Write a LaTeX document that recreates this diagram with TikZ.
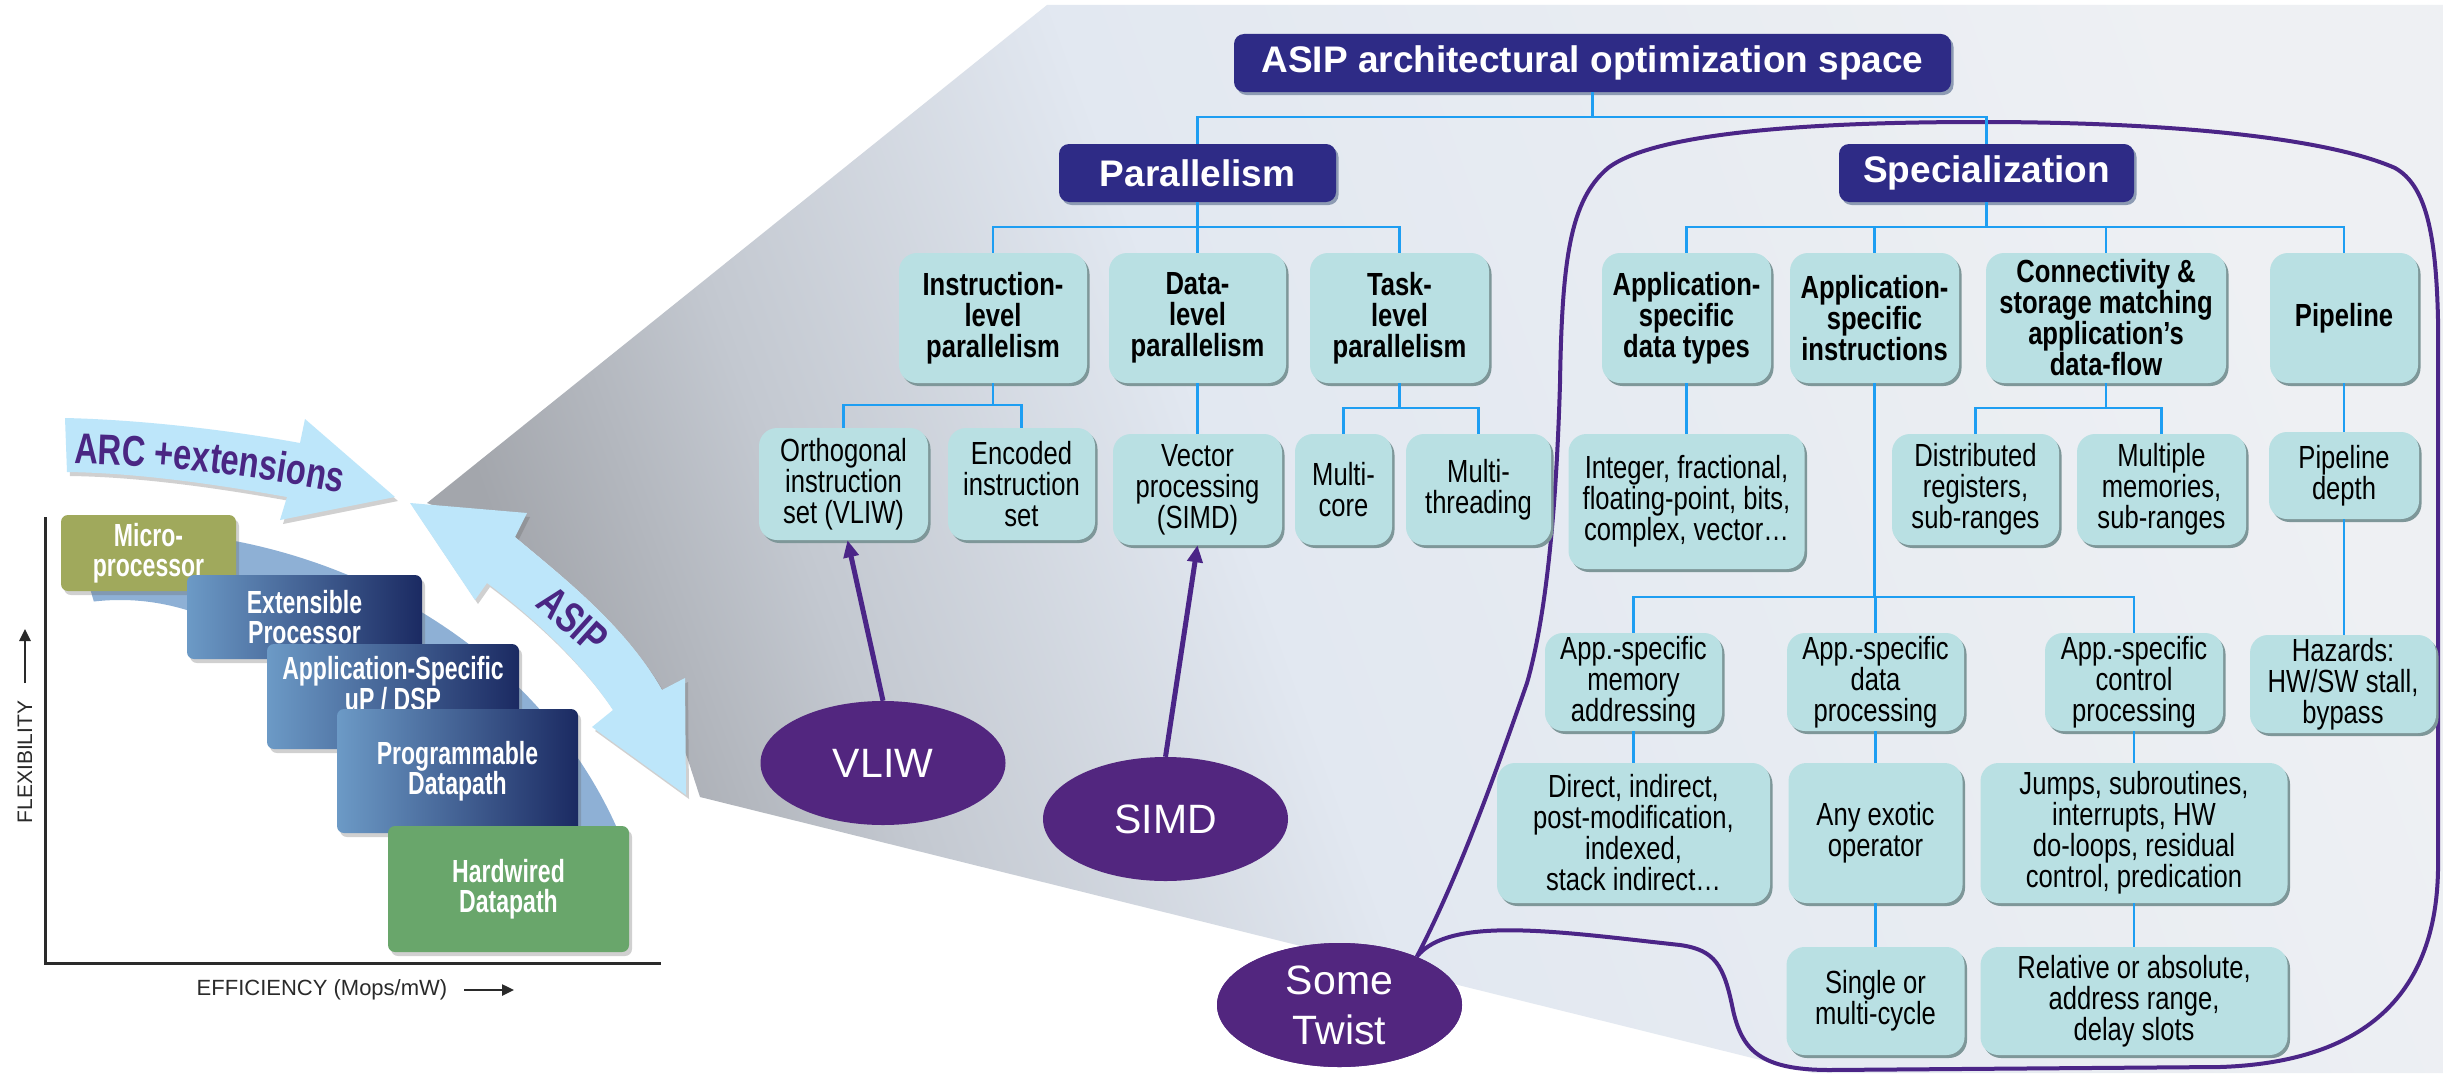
\documentclass[tikz,border=0pt]{standalone}
\usepackage{fontspec}
\setmainfont{Liberation Sans}
\newfontfamily\treefont{Liberation Sans}[FakeStretch=0.8]
\newfontfamily\chartfont{Liberation Sans}[FakeStretch=0.72]
\newfontfamily\arcfamily{Liberation Sans}[FakeStretch=0.76]
\newcommand\arcfont{\arcfamily\bfseries\fontsize{43}{43}\selectfont}
\usetikzlibrary{arrows.meta,shapes.geometric,shadows,calc,decorations.text}

\definecolor{navyfill}{HTML}{2E2B86}
\definecolor{tealbox}{HTML}{B9E0E3}
\definecolor{tshadow}{HTML}{7E9799}
\definecolor{nshadow}{HTML}{8D9BB3}
\definecolor{linkblue}{HTML}{1E9EF2}
\definecolor{twistfill}{HTML}{52267F}
\definecolor{loopline}{HTML}{4B2587}
\definecolor{arrowsky}{HTML}{BDE6FA}
\definecolor{labelpurple}{HTML}{4A2683}
\definecolor{bandblue}{HTML}{8EB0D5}
\definecolor{microolive}{HTML}{A0A95C}
\definecolor{hwgreen}{HTML}{69A66B}
\definecolor{steel}{HTML}{6C9AC6}
\definecolor{deepnavy}{HTML}{1B2A62}
\definecolor{pdark}{HTML}{A3A6AC}
\definecolor{pmid}{HTML}{C3C8D0}
\definecolor{plight}{HTML}{E2E8F1}
\definecolor{pwhite}{HTML}{EEF0F3}
\definecolor{axisgray}{HTML}{2A2A2A}

\pgfdeclarehorizontalshading{panelshade}{100bp}{color(0bp)=(pdark); color(25bp)=(pdark); color(33bp)=(pmid); color(45bp)=(plight); color(75bp)=(pwhite); color(100bp)=(pwhite)}

\begin{document}
\begin{tikzpicture}[x=1pt,y=-1pt,
  tbox/.style={rounded corners=18pt, fill=tealbox, inner sep=0pt, align=center,
    font=\treefont\fontsize{32}{31}\selectfont,
    drop shadow={shadow xshift=2.5pt, shadow yshift=-3pt, opacity=1, fill=tshadow}},
  tboxb/.style={tbox, font=\treefont\bfseries\fontsize{32}{31}\selectfont},
  navybox/.style={rounded corners=10pt, fill=navyfill, text=white, inner sep=0pt,
    font=\bfseries\fontsize{37}{37}\selectfont,
    drop shadow={shadow xshift=2.5pt, shadow yshift=-3pt, opacity=1, fill=nshadow}},
  link/.style={draw=linkblue, line width=2.5pt},
  twistnode/.style={ellipse, fill=twistfill, text=white, inner sep=0pt,
    minimum width=245pt, minimum height=124pt, align=center,
    font=\fontsize{41}{50}\selectfont},
  pointer/.style={draw=loopline, line width=5pt, -{Triangle[length=17pt,width=15pt]}},
  twistloop/.style={draw=loopline, line width=4pt},
  chartbox/.style={rounded corners=7pt, inner sep=0pt, align=center, text=white,
    font=\chartfont\bfseries\fontsize{32}{30}\selectfont,
    drop shadow={shadow xshift=3pt, shadow yshift=-4pt, opacity=.3, fill=black!60}},
  charttext/.style={inner sep=0pt, align=center, text=white,
    font=\chartfont\bfseries\fontsize{32}{29}\selectfont},
  bigarrow/.style={fill=arrowsky, drop shadow={shadow xshift=3pt, shadow yshift=-4pt, opacity=.3, fill=black!60}},
  axisline/.style={draw=axisgray, line width=3pt},
  axarrow/.style={draw=axisgray, line width=2.5pt, -{Triangle[length=12pt,width=11pt]}},
  axislabel/.style={inner sep=0pt, text=axisgray, font=\fontsize{22}{22}\selectfont}
]
\useasboundingbox (0,0) rectangle (2443,1073);
\fill[white] (0,0) rectangle (2443,1073);

% perspective panel behind the tree
\shade[shading=panelshade, shading angle=20]
  (427,503) -- (515,537) .. controls (560,575) and (625,625) .. (662,690)
  -- (688,760) -- (700,797) -- (1813,1073) -- (2443,1073) -- (2443,5) -- (1047,5) -- cycle;

% ---------------- flexibility / efficiency chart ----------------
\fill[bandblue] (120,1000) ++(-95:534 and 470)
  arc[start angle=-95, end angle=-20, x radius=534, y radius=470]
  -- ($(120,1000)+(-20:300 and 400)$)
  arc[start angle=-20, end angle=-95, x radius=300, y radius=400] -- cycle;

\coordinate (yaxtop) at (45,517);
\coordinate (orig) at (45,963);
\coordinate (xaxend) at (661,963);
\draw[axisline] (yaxtop) -- (orig) -- (xaxend);

\node[axislabel, rotate=90, font=\fontsize{21}{21}\selectfont] (flexlabel) at (25,762) {FLEXIBILITY};
\coordinate (fa0) at (25,683);
\coordinate (fa1) at (25,629);
\draw[axarrow] (fa0) -- (fa1);
\node[axislabel] (efflabel) at (322,990) {EFFICIENCY (Mops/mW)};
\coordinate (ea0) at (464,990);
\coordinate (ea1) at (514,990);
\draw[axarrow] (ea0) -- (ea1);

\node[chartbox, fill=microolive, minimum width=175pt, minimum height=76pt] (micro) at (148.5,553) {Micro-\\processor};
\node[chartbox, left color=steel, right color=deepnavy, minimum width=235pt, minimum height=84pt] (ext) at (304.5,617) {Extensible\\Processor};
\node[chartbox, left color=steel, right color=deepnavy, minimum width=252pt, minimum height=105pt] (asp) at (393,696.5) {};
\node[charttext] (asptext) at (393,684) {Application-Specific\\uP / DSP};
\node[chartbox, left color=steel, right color=deepnavy, minimum width=241pt, minimum height=124pt] (prog) at (457.5,771) {Programmable\\Datapath};
\node[chartbox, fill=hwgreen, minimum width=241pt, minimum height=126pt] (hard) at (508.5,889) {Hardwired\\Datapath};

% ARC +extensions arrow
\fill[bigarrow] (65,418) .. controls (150,420) and (240,432) .. (300,443) -- (305,419) -- (395,497)
  -- (280,520) -- (287,497) .. controls (220,485) and (140,473) .. (67,472) -- cycle;
\path[decorate, decoration={text along path, text align=center, text color=labelpurple,
  text={|\arcfont|ARC +extensions}}]
  (40,464) .. controls (150,462) and (260,475) .. (375,500);

% ASIP double arrow
\fill[bigarrow] (410,503) -- (527,513) -- (515,537) .. controls (560,575) and (625,625) .. (662,690)
  -- (685,678) -- (686,795) -- (592,727) -- (613,710) .. controls (580,660) and (530,615) .. (487,583)
  -- (475,600) -- cycle;
\node[inner sep=0pt, rotate=-42, text=labelpurple, font=\arcfont] (asiplabel) at (573,620) {ASIP};

% ---------------- outline of the specialization region ----------------
\node[twistnode] (twist) at (1339.5,1005) {Some\\Twist};
\draw[twistloop] (twist.32) .. controls (1462,870) and (1500,760) .. (1527,683)
  .. controls (1545,620) and (1556,520) .. (1560,383)
  .. controls (1562,260) and (1570,200) .. (1608,168)
  .. controls (1660,128) and (1850,122) .. (1981,122)
  .. controls (2150,122) and (2320,135) .. (2395,168)
  .. controls (2425,185) and (2436,230) .. (2438,320)
  -- (2438,870)
  .. controls (2436,990) and (2370,1062) .. (2220,1067)
  -- (1830,1070)
  .. controls (1760,1070) and (1742,1050) .. (1733,1010)
  .. controls (1724,965) and (1715,950) .. (1680,945)
  .. controls (1560,932) and (1450,915) .. (twist.32);
\node[twistnode] at (twist) {Some\\Twist};

% ---------------- tree ----------------
\node[navybox, minimum width=717pt, minimum height=58pt] (title) at (1592.5,63) {ASIP architectural optimization space};
\node[navybox, minimum width=277pt, minimum height=58pt] (par) at (1197.5,173) {Parallelism};
\node[navybox, minimum width=295pt, minimum height=58pt] (spec) at (1986.5,173) {Specialization};

\node[tboxb, minimum width=188pt, minimum height=130pt] (ilp) at (993,318) {Instruction-\\level\\parallelism};
\node[tboxb, minimum width=177pt, minimum height=130pt] (dlp) at (1197.5,318) {Data-\\level\\parallelism};
\node[tboxb, minimum width=179pt, minimum height=130pt] (tlp) at (1399.5,318) {Task-\\level\\parallelism};
\node[tboxb, minimum width=169pt, minimum height=130pt] (asdt) at (1686.5,318) {Application-\\specific\\data types};
\node[tboxb, minimum width=169pt, minimum height=130pt] (asi) at (1874.5,318) {Application-\\specific\\instructions};
\node[tboxb, minimum width=240pt, minimum height=130pt] (conn) at (2106,318) {Connectivity \&\\storage matching\\application’s\\data-flow};
\node[tboxb, minimum width=148pt, minimum height=130pt] (pipe) at (2344,318) {Pipeline};

\node[tbox, minimum width=169pt, minimum height=112pt] (orth) at (843.5,484) {Orthogonal\\instruction\\set (VLIW)};
\node[tbox, minimum width=147pt, minimum height=112pt] (enc) at (1021.5,484) {Encoded\\instruction\\set};
\node[tbox, minimum width=169pt, minimum height=111pt] (vec) at (1197.5,489.5) {Vector\\processing\\(SIMD)};
\node[tbox, minimum width=97pt, minimum height=111pt] (mcore) at (1343.5,489.5) {Multi-\\core};
\node[tbox, minimum width=145pt, minimum height=111pt] (mthr) at (1478.5,489.5) {Multi-\\threading};
\node[tbox, minimum width=236pt, minimum height=135pt] (integer) at (1686.5,501.5) {Integer, fractional,\\floating-point, bits,\\complex, vector…};
\node[tbox, minimum width=167pt, minimum height=111pt] (dist) at (1975.5,489.5) {Distributed\\registers,\\sub-ranges};
\node[tbox, minimum width=169pt, minimum height=111pt] (mmem) at (2161.5,489.5) {Multiple\\memories,\\sub-ranges};
\node[tbox, minimum width=150pt, minimum height=87pt] (pdepth) at (2344,475.5) {Pipeline\\depth};

\node[tbox, minimum width=177pt, minimum height=98pt] (memaddr) at (1633.5,682) {App.-specific\\memory\\addressing};
\node[tbox, minimum width=177pt, minimum height=98pt] (dataproc) at (1875.5,682) {App.-specific\\data\\processing};
\node[tbox, minimum width=178pt, minimum height=98pt] (ctrlproc) at (2134,682) {App.-specific\\control\\processing};
\node[tbox, minimum width=186pt, minimum height=98pt] (hazards) at (2343,684) {Hazards:\\HW/SW stall,\\bypass};

\node[tbox, minimum width=273pt, minimum height=140pt] (direct) at (1633.5,833) {Direct, indirect,\\post-modification,\\indexed,\\stack indirect…};
\node[tbox, minimum width=174pt, minimum height=140pt] (exotic) at (1875.5,833) {Any exotic\\operator};
\node[tbox, minimum width=307pt, minimum height=140pt] (jumps) at (2134,833) {Jumps, subroutines,\\interrupts, HW\\do-loops, residual\\control, predication};

\node[tbox, minimum width=178pt, minimum height=108pt] (single) at (1875.5,1001) {Single or\\multi-cycle};
\node[tbox, minimum width=307pt, minimum height=108pt] (relative) at (2134,1001) {Relative or absolute,\\address range,\\delay slots};

% branch levels of the connectors
\coordinate (brtop) at (0,117);
\coordinate (brtwo) at (0,227);
\coordinate (brilp) at (0,405);
\coordinate (brtlp) at (0,408);
\coordinate (brconn) at (0,408);
\coordinate (brasi) at (0,597);

\draw[link] (title.south) -- (title.south |- brtop) -| (par.north);
\draw[link] (title.south |- brtop) -| (spec.north);

\draw[link] (par.south) -- (dlp.north);
\draw[link] (par.south |- brtwo) -| (ilp.north);
\draw[link] (par.south |- brtwo) -| (tlp.north);

\draw[link] (spec.south) -- (spec.south |- brtwo) -| (asdt.north);
\draw[link] (spec.south |- brtwo) -| (asi.north);
\draw[link] (spec.south |- brtwo) -| (conn.north);
\draw[link] (spec.south |- brtwo) -| (pipe.north);

\draw[link] (ilp.south) -- (ilp.south |- brilp) -| (orth.north);
\draw[link] (ilp.south |- brilp) -| (enc.north);
\draw[link] (dlp.south) -- (vec.north);
\draw[link] (tlp.south) -- (tlp.south |- brtlp) -| (mcore.north);
\draw[link] (tlp.south |- brtlp) -| (mthr.north);

\draw[link] (asdt.south) -- (integer.north);
\draw[link] (conn.south) -- (conn.south |- brconn) -| (dist.north);
\draw[link] (conn.south |- brconn) -| (mmem.north);
\draw[link] (pipe.south) -- (pdepth.north);
\draw[link] (pdepth.south) -- (hazards.north -| pdepth.south);

\draw[link] (asi.south) -- (asi.south |- brasi) -| (memaddr.north);
\draw[link] (asi.south |- brasi) -| (dataproc.north);
\draw[link] (asi.south |- brasi) -| (ctrlproc.north);

\draw[link] (memaddr.south) -- (direct.north);
\draw[link] (dataproc.south) -- (exotic.north);
\draw[link] (ctrlproc.south) -- (jumps.north);
\draw[link] (exotic.south) -- (single.north);
\draw[link] (jumps.south) -- (relative.north);

% ---------------- VLIW / SIMD pointers ----------------
\node[twistnode] (vliw) at (883,763) {VLIW};
\node[twistnode] (simd) at (1165.5,819) {SIMD};
\draw[pointer] (vliw.north) -- ([xshift=4pt]orth.south);
\draw[pointer] (simd.north) -- (vec.south);
\end{tikzpicture}
\end{document}
